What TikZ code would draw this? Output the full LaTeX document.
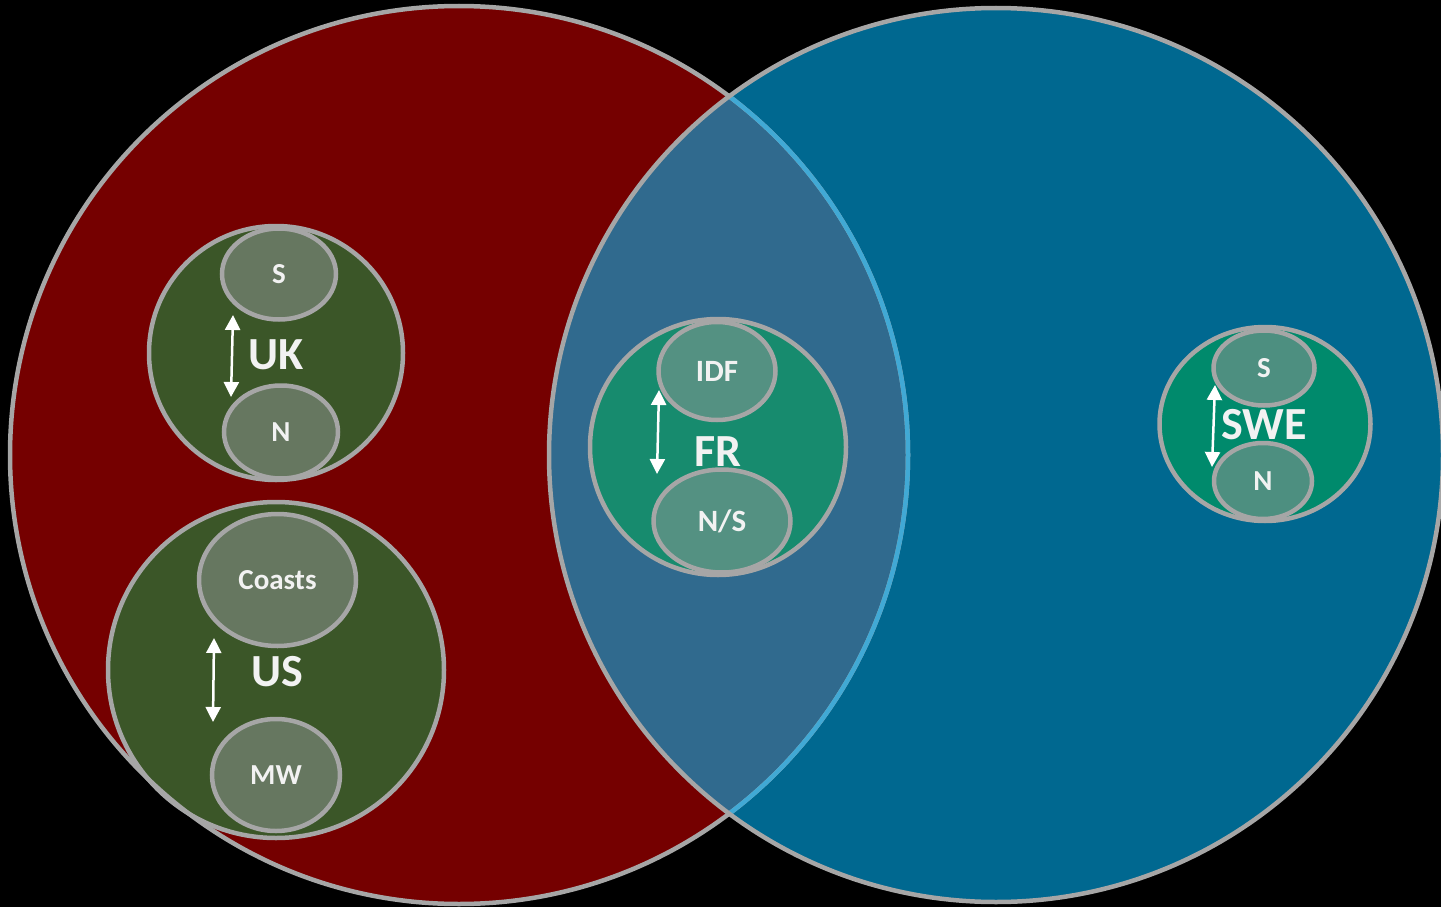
\documentclass[tikz,border=0pt]{standalone}
\usepackage{fontspec}
\setmainfont{Carlito}
\usetikzlibrary{shapes.geometric, arrows.meta, positioning}

\definecolor{bgred}{RGB}{117,0,0}
\definecolor{bgblue}{RGB}{0,104,144}
\definecolor{lens}{RGB}{48,106,142}
\definecolor{rim}{RGB}{166,166,166}
\definecolor{lensrim}{RGB}{65,169,213}
\definecolor{olive}{RGB}{59,86,40}
\definecolor{olivein}{RGB}{102,119,96}
\definecolor{tealfr}{RGB}{23,139,110}
\definecolor{tealfrin}{RGB}{84,145,130}
\definecolor{tealse}{RGB}{0,138,108}
\definecolor{tealsein}{RGB}{77,143,128}
\definecolor{txt}{RGB}{242,242,242}

\tikzstyle{zone} = [circle, draw=rim, line width=4.5pt, inner sep=0pt]
\tikzstyle{region} = [ellipse, draw=rim, line width=4.5pt, inner sep=0pt, text=txt, font=\bfseries\fontsize{29}{29}\selectfont]
\tikzstyle{country} = [text=txt, font=\bfseries\fontsize{46}{46}\selectfont]
\tikzstyle{twoway} = [white, line width=2.5pt, {Triangle[length=15pt,width=15pt]}-{Triangle[length=15pt,width=15pt]}]

\begin{document}
\begin{tikzpicture}[x=1pt, y=-1pt]
\useasboundingbox (0,0) rectangle (1441,907);
\fill[black] (0,0) rectangle (1441,907);

% the two big sets
\fill[bgred] (459,455) circle (449pt);
\fill[bgblue] (996,455) circle (447pt);
\begin{scope}
\clip (459,455) circle (449pt);
\fill[lens] (996,455) circle (447pt);
\fill[olive] (276,670) circle (168pt);
\end{scope}
\draw[rim, line width=4.5pt] (459,455) circle (449pt);
\begin{scope}
\clip (996,455) circle (447pt);
\draw[lensrim, line width=4.5pt] (459,455) circle (449pt);
\end{scope}
\draw[rim, line width=4.5pt] (996,455) circle (447pt);

% UK
\node (ukzone) [zone, fill=olive, minimum size=254pt] at (276,353) {};
\node (uks) [region, fill=olivein, minimum width=114pt, minimum height=91pt] at (279,274) {S};
\node (ukn) [region, fill=olivein, minimum width=114pt, minimum height=93pt] at (281,432) {N};
\node (uk) [country] at (276,355) {UK};
\coordinate (uktop) at (233,315);
\coordinate (ukbot) at (231,397);
\draw[twoway] (uktop) -- (ukbot);

% US
\node (uszone) [zone, minimum size=336pt] at (276,670) {};
\node (uscoasts) [region, fill=olivein, minimum width=157pt, minimum height=132pt] at (277.5,580) {Coasts};
\node (usmw) [region, fill=olivein, minimum width=128pt, minimum height=112pt] at (276,775) {MW};
\node (us) [country] at (277,672) {US};
\coordinate (ustop) at (214,638);
\coordinate (usbot) at (213,722);
\draw[twoway] (ustop) -- (usbot);

% FR
\node (frzone) [zone, fill=tealfr, minimum size=256pt] at (718,447) {};
\node (fridf) [region, fill=tealfrin, minimum width=117pt, minimum height=98pt, font=\bfseries\fontsize{31}{31}\selectfont] at (717,371) {IDF};
\node (frns) [region, fill=tealfrin, minimum width=137pt, minimum height=103pt, font=\bfseries\fontsize{31}{31}\selectfont] at (722,521) {N/S};
\node (fr) [country] at (718,452) {FR};
\coordinate (frtop) at (659,390);
\coordinate (frbot) at (657,474);
\draw[twoway] (frtop) -- (frbot);

% SWE
\node (sezone) [ellipse, draw=rim, line width=4.5pt, inner sep=0pt, fill=tealse, minimum width=211pt, minimum height=194pt] at (1265,424) {};
\node (ses) [region, fill=tealsein, minimum width=101pt, minimum height=75pt] at (1264,368) {S};
\node (sen) [region, fill=tealsein, minimum width=98pt, minimum height=76pt] at (1263,481) {N};
\node (se) [country] at (1264,425) {SWE};
\coordinate (setop) at (1215,385);
\coordinate (sebot) at (1212,467);
\draw[twoway] (setop) -- (sebot);
\end{tikzpicture}
\end{document}
